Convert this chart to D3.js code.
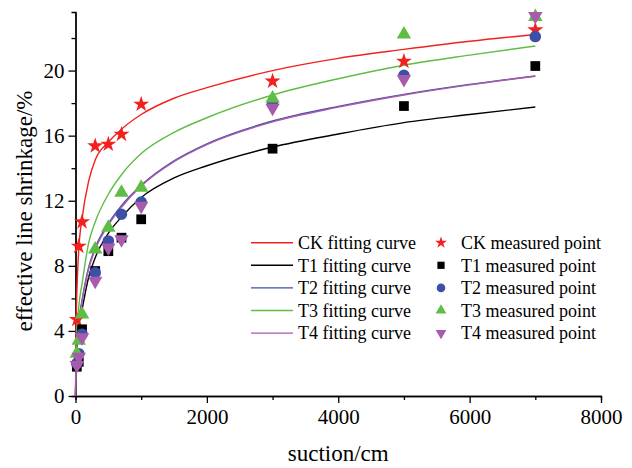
<!DOCTYPE html>
<html>
<head>
<meta charset="utf-8">
<script src="https://cdn.jsdelivr.net/npm/d3@7"></script>
<style>
  body { margin: 0; background: #fff; }
  text { font-family: "Liberation Serif", "Times New Roman", serif; }
  .axis path, .axis line { stroke: #000; stroke-width: 1.3; }
</style>
</head>
<body>
<div id="chart"></div>
<script>
// measured points
var suction = [20, 50, 100, 300, 500, 700, 1000, 3000, 5000, 7000];
var ckPoints = [4.7, 9.2, 10.7, 15.37, 15.47, 16.08, 17.93, 19.35, 20.57, 22.5];
var t1Points = [1.8, 2.1, 4.1, 7.68, 8.9, 9.73, 10.86, 15.2, 17.82, 20.28];
var t2Points = [2.0, 2.6, 3.8, 7.58, 9.53, 11.17, 11.92, 17.95, 19.71, 22.09];
var t3Points = [2.6, 3.4, 5.02, 9.02, 10.35, 12.5, 12.81, 18.3, 22.23, 23.3];
var t4Points = [1.9, 2.4, 3.6, 7.07, 9.12, 9.63, 11.68, 17.7, 19.47, 23.35];

// fitting curves
var curveX = [0, 10, 50, 100, 200, 300, 500, 700, 1000, 1500, 2000, 3000, 4000, 5000, 6000, 7000];
var ckFit = [0, 4.5, 9.0, 10.9, 13.2, 14.5, 15.6, 16.4, 17.3, 18.3, 18.95, 20.0, 20.75, 21.3, 21.8, 22.22];
var t1Fit = [0, 1.8, 4.2, 5.3, 7.3, 8.5, 10.0, 11.0, 12.2, 13.4, 14.15, 15.3, 16.1, 16.8, 17.3, 17.76];
var t2Fit = [0, 2.4, 4.6, 5.9, 7.9, 9.1, 10.6, 11.7, 12.95, 14.45, 15.5, 16.9, 17.8, 18.54, 19.15, 19.67];
var t3Fit = [0, 3.0, 5.5, 6.9, 9.4, 10.7, 12.4, 13.6, 14.9, 16.2, 17.1, 18.5, 19.5, 20.33, 20.95, 21.51];
var t4Fit = [0, 2.3, 4.5, 5.8, 7.8, 9.0, 10.5, 11.6, 12.9, 14.4, 15.45, 16.85, 17.75, 18.5, 19.12, 19.65];

var xTicks = [0, 2000, 4000, 6000, 8000];
var yTicks = [0, 4, 8, 12, 16, 20];

var svgWidth = 632;
var svgHeight = 468;
var margin = { top: 12, right: 31, bottom: 72, left: 75.5 };
var width = svgWidth - margin.left - margin.right;
var height = svgHeight - margin.top - margin.bottom;

var svg = d3.select("#chart")
  .append("svg")
  .attr("width", svgWidth)
  .attr("height", svgHeight);

var chartGroup = svg.append("g")
  .attr("transform", `translate(${margin.left}, ${margin.top})`);

var xScale = d3.scaleLinear().domain([0, 8000]).range([0, width]);
var yScale = d3.scaleLinear().domain([0, 23.6]).range([height, 0]);

var series = [
  { name: "CK", fit: ckFit, pts: ckPoints, color: "#f2211f", symbol: d3.symbolStar, size: 80, rot: 0 },
  { name: "T1", fit: t1Fit, pts: t1Points, color: "#000000", symbol: d3.symbolSquare, size: 95, rot: 0 },
  { name: "T2", fit: t2Fit, pts: t2Points, color: "#3d50a6", symbol: d3.symbolCircle, size: 105, rot: 0 },
  { name: "T3", fit: t3Fit, pts: t3Points, color: "#5fbd45", symbol: d3.symbolTriangle, size: 90, rot: 0 },
  { name: "T4", fit: t4Fit, pts: t4Points, color: "#a85aac", symbol: d3.symbolTriangle, size: 90, rot: 180 }
];

// axes: minor ticks first, then majors with labels
chartGroup.append("g")
  .attr("class", "axis")
  .attr("transform", `translate(0, ${height})`)
  .call(d3.axisBottom(xScale).tickValues(d3.range(1000, 8000, 2000)).tickSize(4).tickFormat(""));
var xAxis = chartGroup.append("g")
  .attr("class", "axis")
  .attr("transform", `translate(0, ${height})`)
  .call(d3.axisBottom(xScale).tickValues(xTicks).tickSize(7).tickSizeOuter(0).tickPadding(6).tickFormat(d3.format("d")));
xAxis.selectAll("text").style("font-size", "21px").attr("fill", "#000");

chartGroup.append("g")
  .attr("class", "axis")
  .call(d3.axisLeft(yScale).tickValues(d3.range(2, 24, 4)).tickSize(4).tickFormat(""));
var yAxis = chartGroup.append("g")
  .attr("class", "axis")
  .call(d3.axisLeft(yScale).tickValues(yTicks).tickSize(7).tickSizeOuter(0).tickPadding(4).tickFormat(d3.format("d")));
yAxis.selectAll("text").style("font-size", "21px").attr("fill", "#000");

// fitting curves
var line = d3.line()
  .x((d, i) => xScale(curveX[i]))
  .y(d => yScale(d))
  .curve(d3.curveMonotoneX);

series.forEach(function(s) {
  chartGroup.append("path")
    .datum(s.fit)
    .attr("fill", "none")
    .attr("stroke", s.color)
    .attr("stroke-width", 1.4)
    .attr("d", line);
});

// measured points
series.forEach(function(s) {
  chartGroup.append("g").selectAll("path")
    .data(s.pts)
    .enter()
    .append("path")
    .attr("d", d3.symbol().type(s.symbol).size(s.size))
    .attr("transform", (d, i) => `translate(${xScale(suction[i])}, ${yScale(d)}) rotate(${s.rot})`)
    .attr("fill", s.color);
});

// axis titles
svg.append("text")
  .attr("x", margin.left + width / 2)
  .attr("y", 461)
  .attr("text-anchor", "middle")
  .style("font-size", "23px")
  .text("suction/cm");

svg.append("text")
  .attr("transform", "translate(32, 211) rotate(-90)")
  .attr("text-anchor", "middle")
  .style("font-size", "23px")
  .text("effective line shrinkage/%");

// legend
var legend = svg.append("g");
series.forEach(function(s, i) {
  var y = 242.7 + i * 22.6;
  legend.append("line")
    .attr("x1", 251).attr("x2", 293)
    .attr("y1", y).attr("y2", y)
    .attr("stroke", s.color)
    .attr("stroke-width", 1.4);
  legend.append("text")
    .attr("x", 298).attr("y", y)
    .attr("dy", "0.35em")
    .style("font-size", "18px")
    .text(s.name + " fitting curve");
  legend.append("path")
    .attr("d", d3.symbol().type(s.symbol).size(s.size * 0.55))
    .attr("transform", `translate(441, ${y}) rotate(${s.rot})`)
    .attr("fill", s.color);
  legend.append("text")
    .attr("x", 461).attr("y", y)
    .attr("dy", "0.35em")
    .style("font-size", "18px")
    .text(s.name + " measured point");
});
</script>
</body>
</html>
